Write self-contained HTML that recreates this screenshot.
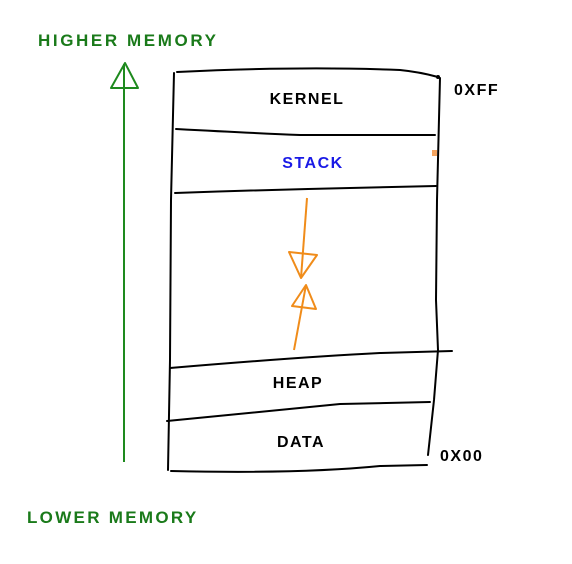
<!DOCTYPE html>
<html><head><style>
html,body{margin:0;padding:0;background:#fff;}
svg{display:block;}
text{font-family:"Liberation Sans",sans-serif;font-weight:bold;}
</style></head><body>
<svg width="572" height="564" viewBox="0 0 572 564" xmlns="http://www.w3.org/2000/svg">
<rect width="572" height="564" fill="#fff"/>
<g fill="none" stroke="#000" stroke-width="2" stroke-linecap="round">
<path d="M177 72 Q300 66 400 70 Q420 72 438 77"/>
<path d="M174 73 L171 200 L170 360 L168 470"/>
<path d="M440 78 L437 200 L436 300 L438 350 L434 400 L428 455"/>
<path d="M176 129 Q250 133 300 135 L435 135"/>
<path d="M175 193 Q260 190 350 188 L436 186"/>
<path d="M170 368 Q300 357 380 353 L452 351"/>
<path d="M167 421 Q260 412 340 404 L430 402"/>
<path d="M171 471 Q300 474 380 466 L427 465"/>
</g>
<circle cx="438" cy="77" r="2" fill="#000"/>
<rect x="432" y="150" width="5" height="6" fill="#f4a460"/>
<g fill="none" stroke="#f08c1a" stroke-width="2" stroke-linejoin="round">
<path d="M307 198 L301 278"/>
<path d="M289 252 L317 255 L301 278 Z"/>
<path d="M294 350 L306 285"/>
<path d="M292 306 L316 309 L306 285 Z"/>
</g>
<g fill="none" stroke="#1e8a1e" stroke-width="2" stroke-linejoin="round">
<path d="M124 462 L124 64"/>
<path d="M111 88 L138 88 L125 63 Z"/>
</g>
<text x="38" y="46" font-size="17" fill="#1a7a1a" letter-spacing="2.6">HIGHER MEMORY</text>
<text x="27" y="523" font-size="17" fill="#1a7a1a" letter-spacing="2.3">LOWER MEMORY</text>
<text x="307" y="104" font-size="16" text-anchor="middle" letter-spacing="1.5">KERNEL</text>
<text x="313" y="168" font-size="16" fill="#1a1ae6" text-anchor="middle" letter-spacing="1.5">STACK</text>
<text x="298" y="388" font-size="16" text-anchor="middle" letter-spacing="1.5">HEAP</text>
<text x="301" y="447" font-size="16" text-anchor="middle" letter-spacing="1.5">DATA</text>
<text x="454" y="95" font-size="16" letter-spacing="1.5">0XFF</text>
<text x="440" y="461" font-size="16" letter-spacing="1.5">0X00</text>
</svg>
</body></html>
